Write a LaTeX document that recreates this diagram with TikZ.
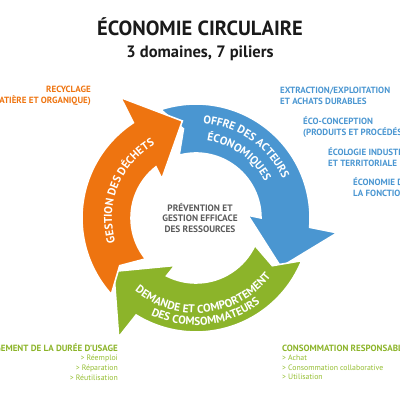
\documentclass[tikz,border=0pt]{standalone}
\usepackage{fontspec}
\setmainfont{PT Sans}
\usetikzlibrary{decorations.text}
\definecolor{ink}{HTML}{1A1A1A}
\definecolor{muted}{HTML}{5A5A5A}
\definecolor{orangeA}{HTML}{EE7410}
\definecolor{blueA}{HTML}{4A96D1}
\definecolor{greenA}{HTML}{8CB42A}
\definecolor{greenB}{HTML}{95BE32}
\tikzset{
  band/.style={draw=white, line width=1.6pt, line join=miter},
  title/.style={font=\bfseries\fontsize{20.5}{22}\selectfont, text=ink, inner sep=0pt},
  subtitle/.style={font=\bfseries\fontsize{16.5}{18}\selectfont, text=ink, inner sep=0pt},
  hub/.style={font=\bfseries\fontsize{9.3}{10.8}\selectfont, text=muted, align=center, inner sep=0pt},
  sidehead/.style={font=\bfseries\fontsize{9}{10.6}\selectfont, inner sep=0pt},
  sidelist/.style={font=\fontsize{7.8}{9.6}\selectfont, inner sep=0pt},
  ringtext/.style={decorate, decoration={text along path, text align=center, text={#1}}},
}
\newcommand{\ringfont}{\fontsize{11.3}{12}\selectfont\bfseries\color{white}}
% colour, tail angle, base angle of the head
\newcommand{\cyclearrow}[3]{%
  \filldraw[band, fill=#1]
    ({#2+2}:114) arc[start angle={#2+2}, end angle={#3-4.7}, radius=114]
    -- ({#3-6}:142) -- ({#3-30}:98) -- ({#3+3}:52) -- (#3:65)
    arc[start angle=#3, end angle={#2-1}, radius=65]
    -- ({#2-8}:90) -- cycle;}

\begin{document}
\begin{tikzpicture}[x=1pt,y=1pt]
\useasboundingbox (0,0) rectangle (400,400);
\clip (0,0) rectangle (400,400);

% Title -----------------------------------------------------------------------
\node[title] (title) at (200,373) {ÉCONOMIE CIRCULAIRE};
\node[subtitle] (subtitle) at (200,347) {3 domaines, 7 piliers};

% Cycle -----------------------------------------------------------------------
\begin{scope}[shift={(196,182)}]
  \cyclearrow{blueA}{106}{0}
  \cyclearrow{greenA}{-24}{-117}
  \cyclearrow{orangeA}{220}{128}

  \path[ringtext={|\ringfont|OFFRE DES ACTEURS}]
    (110:95) arc[start angle=110, end angle=0, radius=95];
  \path[ringtext={|\ringfont|ÉCONOMIQUES}]
    (110:78) arc[start angle=110, end angle=0, radius=78];
  \path[ringtext={|\ringfont|GESTION DES DÉCHETS}]
    (235:84) arc[start angle=235, end angle=81, radius=84];
  \path[ringtext={|\ringfont|DEMANDE ET COMPORTEMENT}]
    (206:95) arc[start angle=206, end angle=346, radius=95];
  \path[ringtext={|\ringfont|DES COMSOMMATEURS}]
    (206:107) arc[start angle=206, end angle=346, radius=107];

  \node[hub] (hub) at (4,0) {PRÉVENTION ET\\GESTION EFFICACE\\DES RESSOURCES};
\end{scope}

% Pillars ---------------------------------------------------------------------
\node[sidehead, text=orangeA, align=right, anchor=east] (recycle) at (91,304)
  {RECYCLAGE\\(MATIÈRE ET ORGANIQUE)};

\node[sidehead, text=blueA, align=left, anchor=west] (extract) at (280,304)
  {EXTRACTION/EXPLOITATION\\ET ACHATS DURABLES};
\node[sidehead, text=blueA, align=left, anchor=west] (ecodesign) at (303,273)
  {ÉCO-CONCEPTION\\(PRODUITS ET PROCÉDÉS)};
\node[sidehead, text=blueA, align=left, anchor=west] (ecology) at (328,243)
  {ÉCOLOGIE INDUSTRIELLE\\ET TERRITORIALE};
\node[sidehead, text=blueA, align=left, anchor=west] (functional) at (353,213)
  {ÉCONOMIE DE\\LA FONCTIONNALITÉ};

\node[sidehead, text=greenA, anchor=east] (lifespan) at (118,52)
  {ALLONGEMENT DE LA DURÉE D’USAGE};
\node[sidelist, text=greenB, align=right, anchor=north east] (lifespanlist) at (118,45)
  {> Réemploi\\> Réparation\\> Réutilisation};

\node[sidehead, text=greenA, anchor=west] (consumption) at (282,52)
  {CONSOMMATION RESPONSABLE};
\node[sidelist, text=greenB, align=left, anchor=north west] (consumptionlist) at (282,45)
  {> Achat\\> Consommation collaborative\\> Utilisation};

\end{tikzpicture}
\end{document}
